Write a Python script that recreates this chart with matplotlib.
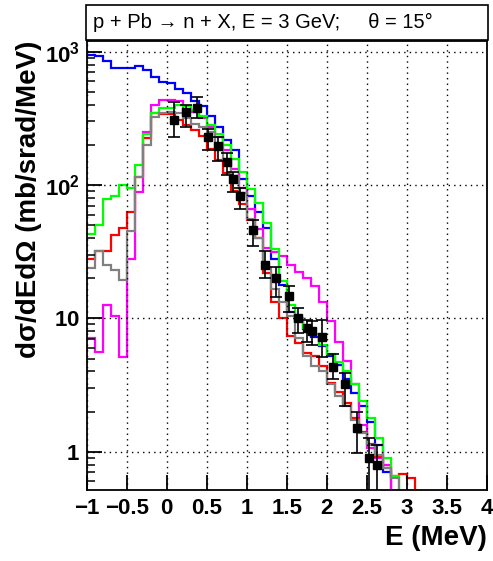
import numpy as np
import matplotlib
matplotlib.use("Agg")
import matplotlib.pyplot as plt
from matplotlib.patches import Rectangle
from matplotlib.ticker import FixedLocator, FixedFormatter, LogLocator, NullFormatter

plt.rcParams['font.family'] = ['Liberation Sans', 'DejaVu Sans']
plt.rcParams['mathtext.fontset'] = 'custom'
plt.rcParams['mathtext.rm'] = 'Liberation Sans:bold'
plt.rcParams['mathtext.bf'] = 'Liberation Sans:bold'
plt.rcParams['mathtext.it'] = 'Liberation Sans:bold'

# ---- data -------------------------------------------------------------
bin_start = -1.0
bin_width = 0.1

blue = [944, 923, 851, 752, 759, 759, 782, 724, 646, 597, 582, 525, 490, 427,
        389, 331, 275, 219, 182, 112, 83, 63, 48, 28, 17.8, 11.2, 9.5, 8.3,
        7.2, 6.2, 5.2, 4.5, 3.5, 2.75, 2.2, 1.66, 1.12, 0.71, 0.45, 0, 0, 0]
green = [43, 50, 79, 83, 100, 95, 141, 240, 347, 380, 380, 398, 389, 363,
         331, 282, 240, 200, 158, 126, 93, 74, 52, 33, 19, 12.6, 10, 8.5,
         7.6, 6.3, 5.4, 4.7, 4.0, 3.2, 2.4, 1.78, 1.26, 0.89, 0.66, 0.45, 0, 0]
red = [28, 32, 32, 42, 48, 63, 115, 224, 347, 339, 339, 309, 282, 257,
       234, 186, 155, 123, 91, 72, 55, 40, 22, 13.2, 10, 7.4, 6.5, 5.5,
       5.2, 4.4, 3.3, 2.8, 2.3, 1.8, 1.4, 1.15, 0.91, 0.76, 0.66, 0.68, 0.63, 0]
gray = [24, 32, 25, 23, 19.5, 45, 115, 200, 324, 347, 355, 347, 316, 288,
        275, 251, 200, 155, 117, 87, 56, 40, 24, 16.6, 13.2, 10.5, 7.1, 5.2,
        4.4, 4.0, 3.2, 2.6, 2.2, 1.74, 1.38, 1.12, 0.95, 0.76, 0.63, 0.45, 0, 0]
magenta = [7.1, 5.6, 12.6, 10.5, 5.1, 28, 89, 251, 398, 437, 437, 427, 363, 355,
           316, 275, 229, 182, 132, 95, 66, 47, 34, 31.6, 29.5, 25, 22.4, 20,
           17.4, 13.2, 9.5, 6.6, 4.8, 3.2, 1.58, 1.07, 0.89, 0.79, 0.45, 0, 0, 0]

data_x = [0.09, 0.24, 0.38, 0.52, 0.64, 0.75, 0.83, 0.92, 1.08, 1.23, 1.37,
          1.53, 1.64, 1.75, 1.82, 1.94, 2.08, 2.23, 2.38, 2.53, 2.63]
data_y = [309, 355, 380, 229, 195, 148, 112, 83, 46, 25, 20,
          14.8, 10, 8.5, 8.1, 7.2, 4.3, 3.2, 1.5, 0.89, 0.79]
data_lo = [229, 275, 316, 182, 151, 120, 89, 66, 35, 20, 14.5,
           11.2, 7.8, 6.6, 6.3, 5.1, 3.5, 2.2, 0.98, 0.3, 0.3]
data_hi = [417, 398, 457, 263, 229, 174, 126, 95, 55, 32, 24.5,
           17.4, 12, 9.8, 9.5, 9.8, 5.4, 3.9, 2.0, 1.26, 1.12]

xticks = [-1, -0.5, 0, 0.5, 1, 1.5, 2, 2.5, 3, 3.5, 4]
xticklabels = ['\u22121', '\u22120.5', '0', '0.5', '1', '1.5', '2', '2.5', '3', '3.5', '4']
yticks = [1, 10, 100, 1000]
yticklabels = [r'$\mathregular{1}$', r'$\mathregular{10}$',
               r'$\mathregular{10^{2}}$', r'$\mathregular{10^{3}}$']

title_text = 'p + Pb \u2192 n + X, E = 3 GeV;     \u03b8 = 15\u00b0'
xlabel = 'E (MeV)'
ylabel = 'd\u03c3/dEd\u03a9 (mb/srad/MeV)'

# ---- figure -----------------------------------------------------------
W, H = 493, 561
fig = plt.figure(figsize=(W / 100, H / 100), dpi=100)
ax_l, ax_r, ax_t, ax_b = 86.7, 486.7, 41, 490
ax = fig.add_axes([ax_l / W, 1 - ax_b / H, (ax_r - ax_l) / W, (ax_b - ax_t) / H])
ax.set_yscale('log')

nb = len(blue)
edges = bin_start + bin_width * np.arange(nb + 1)

for vals, col in [(blue, '#0000ff'), (magenta, '#ff00ff'), (red, '#ff0000'),
                  (green, '#00ff00'), (gray, '#808080')]:
    ax.stairs(np.array(vals, dtype=float), edges, color=col, lw=1.6, baseline=None)

dy = np.array(data_y)
yerr = [dy - np.array(data_lo), np.array(data_hi) - dy]
ax.errorbar(data_x, dy, yerr=yerr, fmt='s', color='black', ms=5.5, lw=1.2,
            capsize=4.5, capthick=1.2, zorder=10)

ax.set_xlim(-1, 4)
ax.set_ylim(0.516, 1205)

ax.xaxis.set_major_locator(FixedLocator(xticks))
ax.xaxis.set_major_formatter(FixedFormatter(xticklabels))
ax.yaxis.set_major_locator(FixedLocator(yticks))
ax.yaxis.set_major_formatter(FixedFormatter(yticklabels))
ax.yaxis.set_minor_locator(LogLocator(base=10, subs=np.arange(2, 10)))
ax.yaxis.set_minor_formatter(NullFormatter())

ax.tick_params(axis='both', which='major', direction='in', length=11, width=1.3,
               labelsize=16, top=False, right=False)
ax.tick_params(axis='y', which='minor', direction='in', length=6, width=1.1, right=False)
ax.tick_params(axis='x', which='major', pad=6)
ax.tick_params(axis='y', which='major', pad=5)
for lab in ax.get_xticklabels() + ax.get_yticklabels():
    lab.set_fontweight('bold')

ax.grid(True, which='major', color='black', linestyle=(0, (1, 3)), lw=1.0)
for s in ax.spines.values():
    s.set_linewidth(1.3)

ax.set_xlabel(xlabel, fontsize=20, fontweight='bold', loc='right', labelpad=4)
ax.set_ylabel(ylabel, fontsize=20, fontweight='bold', loc='top', labelpad=2)

# title box
box = Rectangle((86 / W, 1 - 40 / H), (488 - 86) / W, 35 / H, transform=fig.transFigure,
                facecolor='white', edgecolor='black', lw=1.2, zorder=20)
fig.patches.append(box)
fig.text(93 / W, 1 - 22 / H, title_text, fontsize=14.5, va='center', ha='left', zorder=21)

fig.savefig('out.png', dpi=100)
